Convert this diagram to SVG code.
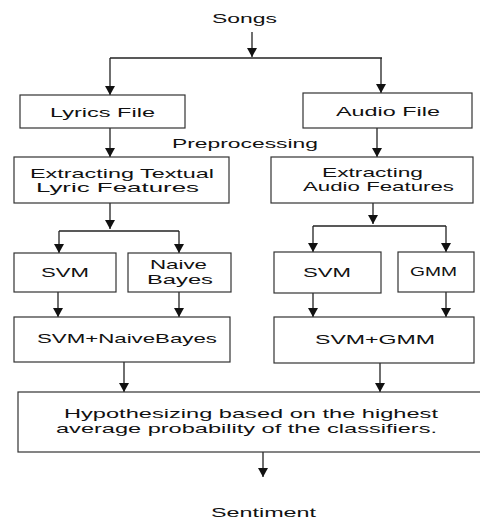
<svg xmlns="http://www.w3.org/2000/svg" width="480" height="521" viewBox="0 0 480 521">
<style>
.box{fill:#fff;stroke:#333;stroke-width:1.2}
.t{font-family:"Liberation Sans",Arial,sans-serif;font-size:13.5px;fill:#111;text-anchor:middle}
.c{fill:none;stroke:#222;stroke-width:1.3}
</style>
<defs>
<marker id="ad" markerUnits="userSpaceOnUse" markerWidth="10" markerHeight="9" viewBox="0 0 10 9" refX="5" refY="9" orient="0">
<path d="M0,0 L10,0 L5,9 Z" fill="#111"/>
</marker>
</defs>
<rect width="480" height="521" fill="#fff"/>

<g id="connectors">
<line class="c" x1="252" y1="32" x2="252" y2="57" marker-end="url(#ad)"/>
<line class="c" x1="110" y1="58" x2="382" y2="58"/>
<line class="c" x1="110" y1="58" x2="110" y2="95" marker-end="url(#ad)"/>
<line class="c" x1="381" y1="58" x2="381" y2="93" marker-end="url(#ad)"/>
<line class="c" x1="110" y1="128" x2="110" y2="157" marker-end="url(#ad)"/>
<line class="c" x1="377" y1="128" x2="377" y2="157" marker-end="url(#ad)"/>
<line class="c" x1="110" y1="203" x2="110" y2="229" marker-end="url(#ad)"/>
<line class="c" x1="59" y1="231" x2="179" y2="231"/>
<line class="c" x1="59" y1="231" x2="59" y2="253" marker-end="url(#ad)"/>
<line class="c" x1="179" y1="231" x2="179" y2="253" marker-end="url(#ad)"/>
<line class="c" x1="373" y1="203" x2="373" y2="224" marker-end="url(#ad)"/>
<line class="c" x1="313" y1="226" x2="446" y2="226"/>
<line class="c" x1="313" y1="226" x2="313" y2="252" marker-end="url(#ad)"/>
<line class="c" x1="446" y1="226" x2="446" y2="252" marker-end="url(#ad)"/>
<line class="c" x1="58" y1="292" x2="58" y2="317" marker-end="url(#ad)"/>
<line class="c" x1="179" y1="292" x2="179" y2="317" marker-end="url(#ad)"/>
<line class="c" x1="313" y1="293" x2="313" y2="317" marker-end="url(#ad)"/>
<line class="c" x1="446" y1="292" x2="446" y2="317" marker-end="url(#ad)"/>
<line class="c" x1="124" y1="362" x2="124" y2="392" marker-end="url(#ad)"/>
<line class="c" x1="380" y1="363" x2="380" y2="392" marker-end="url(#ad)"/>
<line class="c" x1="263" y1="452" x2="263" y2="477" marker-end="url(#ad)"/>
</g>

<g id="songs"><text class="t" x="244.5" y="23" font-size="14" textLength="65" lengthAdjust="spacingAndGlyphs">Songs</text></g>

<g id="lyrics-file">
<rect class="box" x="20" y="95" width="165" height="33"/>
<text class="t" x="102.5" y="117" textLength="105" lengthAdjust="spacingAndGlyphs">Lyrics File</text>
</g>

<g id="audio-file">
<rect class="box" x="303" y="93" width="169" height="35"/>
<text class="t" x="388" y="116" textLength="104" lengthAdjust="spacingAndGlyphs">Audio File</text>
</g>

<g id="preprocessing"><text class="t" x="245" y="148" textLength="146" lengthAdjust="spacingAndGlyphs">Preprocessing</text></g>

<g id="extract-lyrics">
<rect class="box" x="14" y="157" width="215" height="46"/>
<text class="t" x="122" y="178" textLength="184" lengthAdjust="spacingAndGlyphs">Extracting Textual</text>
<text class="t" x="117.5" y="192" textLength="163" lengthAdjust="spacingAndGlyphs">Lyric Features</text>
</g>

<g id="extract-audio">
<rect class="box" x="271" y="157" width="202" height="46"/>
<text class="t" x="372.5" y="177" textLength="101" lengthAdjust="spacingAndGlyphs">Extracting</text>
<text class="t" x="378.5" y="191" textLength="151" lengthAdjust="spacingAndGlyphs">Audio Features</text>
</g>

<g id="svm-lyrics">
<rect class="box" x="14" y="253" width="102" height="39"/>
<text class="t" x="65" y="277" textLength="48" lengthAdjust="spacingAndGlyphs">SVM</text>
</g>

<g id="naive-bayes">
<rect class="box" x="128" y="253" width="103" height="39"/>
<text class="t" x="178.5" y="269" textLength="57" lengthAdjust="spacingAndGlyphs">Naive</text>
<text class="t" x="180" y="284" textLength="66" lengthAdjust="spacingAndGlyphs">Bayes</text>
</g>

<g id="svm-audio">
<rect class="box" x="274" y="252" width="107" height="41"/>
<text class="t" x="327" y="277" textLength="48" lengthAdjust="spacingAndGlyphs">SVM</text>
</g>

<g id="gmm">
<rect class="box" x="398" y="252" width="76" height="40"/>
<text class="t" x="433.5" y="276" textLength="47" lengthAdjust="spacingAndGlyphs">GMM</text>
</g>

<g id="svm-nb">
<rect class="box" x="14" y="317" width="216" height="45"/>
<text class="t" x="127" y="343" textLength="180" lengthAdjust="spacingAndGlyphs">SVM+NaiveBayes</text>
</g>

<g id="svm-gmm">
<rect class="box" x="274" y="317" width="200" height="46"/>
<text class="t" x="375" y="344" textLength="120" lengthAdjust="spacingAndGlyphs">SVM+GMM</text>
</g>

<g id="hypothesis">
<rect class="box" x="18" y="392" width="470" height="60"/>
<text class="t" x="251" y="418" textLength="374" lengthAdjust="spacingAndGlyphs">Hypothesizing based on the highest</text>
<text class="t" x="246.5" y="433" textLength="381" lengthAdjust="spacingAndGlyphs">average probability of the classifiers.</text>
</g>

<g id="sentiment"><text class="t" x="263.5" y="517" textLength="105" lengthAdjust="spacingAndGlyphs">Sentiment</text></g>
</svg>
